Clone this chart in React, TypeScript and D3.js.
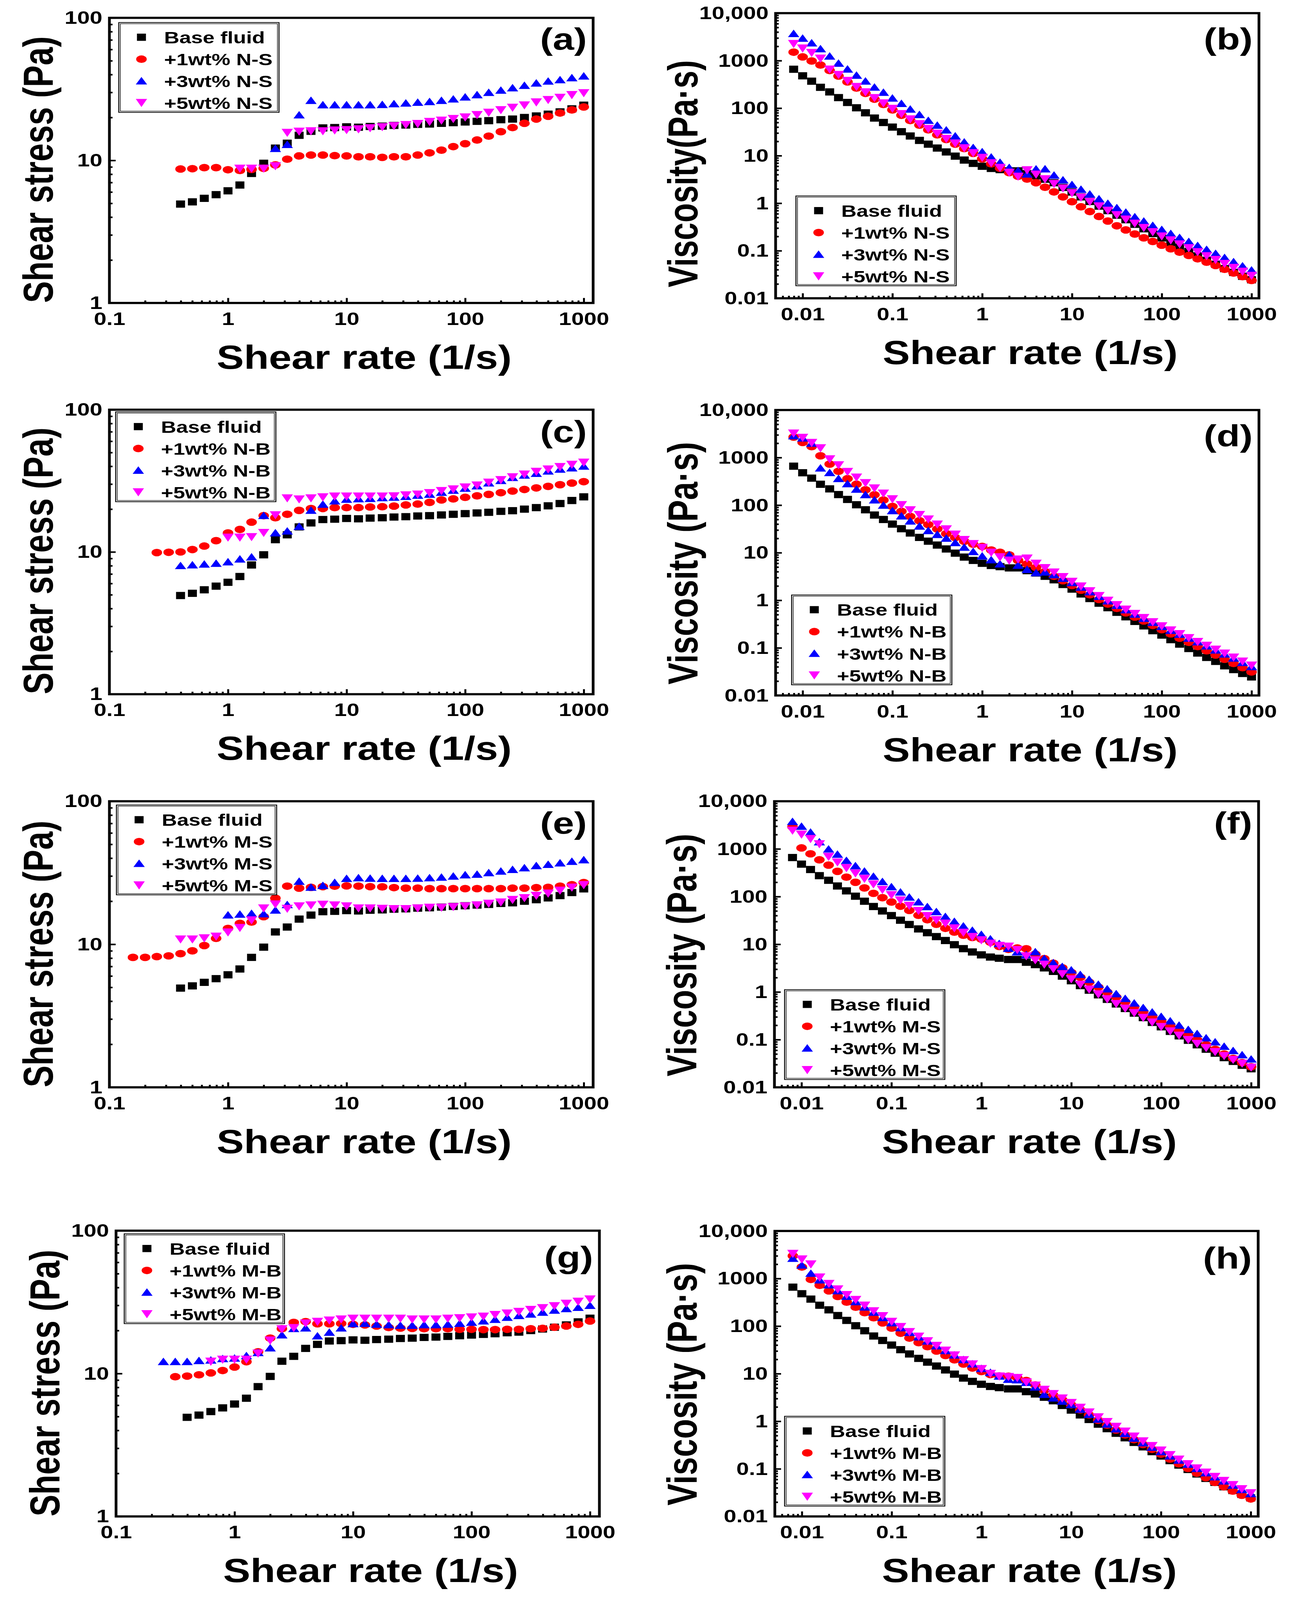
import React, { useEffect, useRef } from "react";
import * as d3 from "d3";

const FONT = "'Liberation Sans', Arial, Helvetica, sans-serif";
const W = 3304;
const H = 5112;

// shear-rate grids (1/s)
const stressRates = [0.158, 0.2, 0.251, 0.316, 0.398, 0.501, 0.631, 0.794, 1, 1.26, 1.58, 2, 2.51, 3.16, 3.98, 5.01, 6.31, 7.94, 10, 12.6, 15.8, 20, 25.1, 31.6, 39.8, 50.1, 63.1, 79.4, 100, 126, 158, 200, 251, 316, 398, 501, 631, 794, 1000];
const viscRates = [0.00794, 0.01, 0.0126, 0.0158, 0.02, 0.0251, 0.0316, 0.0398, 0.0501, 0.0631, 0.0794, 0.1, 0.126, 0.158, 0.2, 0.251, 0.316, 0.398, 0.501, 0.631, 0.794, 1, 1.26, 1.58, 2, 2.51, 3.16, 3.98, 5.01, 6.31, 7.94, 10, 12.6, 15.8, 20, 25.1, 31.6, 39.8, 50.1, 63.1, 79.4, 100, 126, 158, 200, 251, 316, 398, 501, 631, 794, 1000];

// tick labels
const stressXTicks = [0.1, 1, 10, 100, 1000];
const stressXLabels = ["0.1", "1", "10", "100", "1000"];
const stressYTicks = [1, 10, 100];
const stressYLabels = ["1", "10", "100"];
const viscXTicks = [0.01, 0.1, 1, 10, 100, 1000];
const viscXLabels = ["0.01", "0.1", "1", "10", "100", "1000"];
const viscYTicks = [0.01, 0.1, 1, 10, 100, 1000, 10000];
const viscYLabels = ["0.01", "0.1", "1", "10", "100", "1000", "10,000"];

// shear stress (Pa), aligned with stressRates
const baseStress = [null, null, null, null, 4.94, 5.12, 5.42, 5.75, 6.12, 6.72, 8.1, 9.55, 12.2, 13.2, 15.0, 16.0, 16.9, 17.0, 17.2, 17.1, 17.3, 17.4, 17.6, 17.7, 17.9, 18.0, 18.2, 18.4, 18.6, 18.8, 19.0, 19.3, 19.5, 20.0, 20.5, 21.1, 21.9, 23.0, 24.4];
const stressNS1 = [null, null, null, null, 8.7, 8.75, 8.9, 8.9, 8.6, 8.5, 8.65, 8.8, 9.3, 10.2, 10.75, 10.9, 10.9, 10.8, 10.75, 10.6, 10.6, 10.5, 10.6, 10.6, 10.9, 11.3, 11.8, 12.5, 13.1, 13.9, 14.8, 15.9, 17.0, 18.2, 19.5, 20.4, 21.5, 22.6, 23.7];
const stressNS3 = [null, null, null, null, null, null, null, null, null, null, null, null, 12.1, 12.9, 20.8, 26.3, 24.5, 24.5, 24.5, 24.5, 24.5, 24.6, 24.9, 25.2, 25.5, 25.8, 26.3, 26.9, 27.8, 28.8, 29.9, 31.0, 32.2, 33.5, 34.8, 35.9, 36.7, 37.9, 39.0];
const stressNS5 = [null, null, null, null, null, null, null, null, null, 8.75, 8.75, 8.75, 9.1, 15.6, 15.9, 16.0, 16.0, 16.2, 16.3, 16.5, 16.8, 17.1, 17.4, 17.7, 18.0, 18.6, 19.0, 19.5, 20.0, 20.8, 21.6, 22.5, 23.4, 24.3, 25.5, 26.5, 27.5, 28.7, 29.6];
const stressNB1 = [null, null, 9.9, 9.95, 10.0, 10.4, 11.0, 12.0, 13.6, 14.4, 16.2, 18.0, 17.4, 18.4, 19.6, 20.2, 20.2, 20.5, 20.5, 20.5, 20.7, 20.8, 21.0, 21.4, 21.7, 22.3, 23.2, 23.6, 24.2, 24.8, 25.4, 26.1, 26.8, 27.5, 28.2, 28.9, 29.7, 30.5, 31.2];
const stressNB3 = [null, null, null, null, 8.0, 8.1, 8.2, 8.3, 8.5, 8.9, 9.2, 18.0, 13.6, 14.0, 15.1, 19.6, 21.6, 22.8, 23.4, 23.6, 23.7, 24.0, 24.2, 24.5, 25.0, 25.4, 26.2, 27.1, 28.0, 29.1, 30.5, 31.7, 33.3, 34.6, 35.6, 37.0, 38.1, 38.9, 40.0];
const stressNB5 = [null, null, null, null, null, null, null, null, 12.6, 12.6, 12.7, 13.6, 18.1, 23.8, 23.4, 23.8, 24.2, 24.5, 24.5, 24.5, 24.5, 24.5, 24.6, 25.0, 25.3, 25.9, 26.8, 27.5, 28.4, 29.3, 30.7, 32.0, 33.5, 35.0, 36.6, 38.0, 39.5, 41.0, 42.4];
const stressMS1 = [8.1, 8.1, 8.2, 8.3, 8.6, 9.0, 9.8, 11.0, 12.9, 14.0, 14.3, 15.6, 21.0, 25.5, 24.7, 25.0, 25.3, 25.5, 25.6, 25.5, 25.3, 25.2, 24.9, 24.7, 24.7, 24.5, 24.5, 24.5, 24.5, 24.5, 24.5, 24.5, 24.7, 24.7, 24.9, 25.0, 25.5, 26.1, 27.0];
const stressMS3 = [null, null, null, null, null, null, null, null, 16.0, 16.2, 16.4, 16.3, 17.3, 18.9, 27.5, 25.0, 25.7, 27.0, 28.8, 29.1, 28.9, 28.8, 28.8, 28.8, 28.9, 29.1, 29.4, 29.9, 30.5, 30.8, 31.6, 32.4, 33.3, 34.2, 35.4, 36.1, 37.0, 37.9, 38.9];
const stressMS5 = [null, null, null, null, 10.8, 10.8, 11.0, 11.3, 12.1, 13.0, 14.7, 17.8, 19.0, 17.7, 18.4, 18.7, 18.9, 18.7, 18.4, 17.8, 17.8, 17.7, 17.6, 17.6, 17.8, 18.0, 18.0, 18.2, 18.4, 18.7, 19.2, 19.6, 20.4, 21.0, 21.8, 22.6, 23.7, 24.9, 25.9];
const stressMB1 = [null, null, null, 9.5, 9.6, 9.8, 10.1, 10.5, 11.1, 12.1, 14.2, 17.7, 20.6, 22.8, 23.1, 22.3, 22.3, 22.4, 22.1, 21.9, 21.5, 21.0, 20.8, 20.7, 20.6, 20.6, 20.6, 20.4, 20.4, 20.3, 20.3, 20.4, 20.4, 20.6, 20.7, 21.1, 21.5, 22.1, 23.3];
const stressMB3 = [null, null, 12.1, 12.1, 12.1, 12.3, 12.4, 12.7, 12.8, 13.3, 14.0, 15.1, 18.6, 20.6, 20.8, 18.3, 19.4, 20.8, 22.3, 22.4, 22.1, 21.9, 21.7, 21.7, 21.9, 21.9, 22.1, 22.4, 22.8, 23.3, 23.9, 24.7, 25.4, 26.0, 26.8, 27.7, 28.4, 29.0, 29.9];
const stressMB5 = [null, null, null, null, null, null, 12.1, 12.5, 12.5, 12.5, 13.8, 17.0, 20.4, 20.8, 22.4, 23.0, 23.5, 23.9, 24.2, 24.2, 24.2, 24.2, 24.2, 23.9, 23.9, 23.9, 24.2, 24.4, 24.7, 25.0, 25.7, 26.3, 27.0, 27.9, 28.7, 29.6, 30.8, 31.8, 33.0];

// viscosity (Pa·s), aligned with viscRates
const baseVisc = [660, 480, 370, 275, 220, 167, 132, 102, 80, 62, 50, 40, 32, 26, 21, 17.5, 14.5, 12, 9.8, 8.1, 6.9, 6.0, 5.4, 5.1, 4.8, 4.8, 4.2, 3.75, 3.2, 2.7, 2.15, 1.72, 1.36, 1.09, 0.87, 0.70, 0.56, 0.45, 0.36, 0.29, 0.23, 0.186, 0.149, 0.12, 0.097, 0.078, 0.063, 0.052, 0.042, 0.035, 0.029, 0.0245];
const viscNS1 = [1510, 1200, 985, 810, 620, 475, 357, 265, 205, 155, 120, 92, 71, 55, 44, 35, 27.5, 21.9, 17.5, 14.1, 11.2, 8.6, 6.75, 5.46, 4.41, 3.70, 3.23, 2.70, 2.17, 1.73, 1.36, 1.075, 0.842, 0.669, 0.526, 0.422, 0.335, 0.274, 0.225, 0.187, 0.157, 0.131, 0.110, 0.0934, 0.0797, 0.0677, 0.0576, 0.049, 0.0407, 0.0341, 0.0285, 0.0237];
const viscNS3 = [3700, 2950, 2350, 1770, 1240, 880, 660, 490, 370, 276, 214, 162, 125, 95, 73, 55, 43.5, 34.5, 25.9, 19.3, 14.7, 12.0, 9.3, 7.2, 5.6, 4.82, 4.08, 5.22, 5.25, 3.88, 3.08, 2.45, 1.95, 1.55, 1.23, 0.99, 0.797, 0.641, 0.515, 0.417, 0.339, 0.278, 0.229, 0.189, 0.155, 0.128, 0.106, 0.0874, 0.0716, 0.0582, 0.0477, 0.039];
const viscNS5 = [2240, 1800, 1450, 1100, 650, 500, 375, 280, 215, 163, 126, 97, 75, 58, 46, 36.5, 29, 22.5, 18, 14.3, 11.3, 9.0, 6.95, 5.52, 4.39, 3.62, 4.93, 3.99, 3.19, 2.54, 2.04, 1.63, 1.31, 1.06, 0.857, 0.693, 0.56, 0.452, 0.371, 0.301, 0.2455, 0.2, 0.165, 0.136, 0.113, 0.0932, 0.0768, 0.064, 0.0529, 0.0436, 0.0361, 0.0296];
const viscNB1 = [2700, 2080, 1700, 1090, 730, 515, 360, 275, 210, 165, 128, 94, 74, 58, 47, 39, 31.5, 25.1, 20.8, 17.4, 15.1, 13.6, 11.4, 10.2, 9.0, 6.9, 5.8, 4.9, 4.0, 3.2, 2.58, 2.05, 1.63, 1.31, 1.04, 0.836, 0.677, 0.545, 0.445, 0.368, 0.297, 0.242, 0.197, 0.160, 0.131, 0.107, 0.087, 0.0708, 0.0577, 0.0471, 0.0384, 0.0312];
const viscNB3 = [2860, 2560, 1990, 600, 480, 360, 280, 215, 165, 128, 99, 76, 59, 46, 36, 29, 24, 20.1, 16.2, 13.0, 10.5, 8.5, 7.07, 5.8, 9.0, 5.41, 4.43, 3.79, 3.91, 3.42, 2.87, 2.34, 1.87, 1.5, 1.2, 0.963, 0.775, 0.628, 0.507, 0.415, 0.341, 0.28, 0.231, 0.192, 0.159, 0.133, 0.109, 0.0894, 0.0738, 0.0604, 0.049, 0.04];
const viscNB5 = [3200, 2600, 2030, 1570, 920, 690, 500, 380, 290, 225, 175, 133, 100, 78, 62, 50, 39, 31, 24, 18.5, 15.2, 12.6, 10.0, 8.01, 6.82, 7.21, 7.53, 5.88, 4.75, 3.84, 3.08, 2.45, 1.95, 1.55, 1.23, 0.979, 0.791, 0.636, 0.517, 0.425, 0.346, 0.284, 0.233, 0.194, 0.160, 0.133, 0.111, 0.0919, 0.0758, 0.0626, 0.0516, 0.0424];
const viscMS1 = [2900, 1050, 790, 590, 458, 339, 256, 200, 152, 117, 95, 77, 63, 51.3, 40.5, 32.7, 26.3, 21.6, 18.0, 15.5, 13.9, 12.9, 11.1, 9.02, 7.82, 8.36, 8.06, 6.2, 4.99, 4.01, 3.21, 2.56, 2.03, 1.60, 1.26, 0.991, 0.781, 0.620, 0.489, 0.388, 0.308, 0.245, 0.195, 0.155, 0.123, 0.0983, 0.0781, 0.0625, 0.0499, 0.0404, 0.0329, 0.027];
const viscMS3 = [3740, 2960, 2230, 1400, 990, 770, 570, 440, 340, 265, 205, 160, 124, 97, 77, 61, 48, 38, 30, 24, 19.5, 16.0, 12.9, 10.3, 8.17, 6.89, 5.98, 6.91, 4.99, 4.07, 3.40, 2.88, 2.31, 1.82, 1.44, 1.15, 0.911, 0.726, 0.581, 0.466, 0.376, 0.305, 0.245, 0.199, 0.162, 0.133, 0.108, 0.0889, 0.072, 0.0586, 0.0477, 0.0389];
const viscMS5 = [2410, 1990, 1610, 1250, 680, 520, 395, 305, 235, 180, 138, 107, 83, 64, 50, 39, 32, 27.1, 21.6, 17.4, 14.2, 12.1, 10.3, 9.27, 8.92, 7.56, 5.60, 4.62, 3.73, 3.0, 2.35, 1.84, 1.41, 1.12, 0.887, 0.701, 0.557, 0.447, 0.359, 0.285, 0.229, 0.184, 0.149, 0.121, 0.0982, 0.0812, 0.0664, 0.0548, 0.0451, 0.0376, 0.0313, 0.0259];
const viscMB1 = [3000, 1750, 960, 720, 550, 420, 320, 250, 192, 150, 117, 91, 71, 56, 45, 37, 30.0, 24.1, 19.6, 16.0, 13.2, 11.1, 9.61, 8.96, 8.87, 8.2, 7.21, 5.80, 4.45, 3.53, 2.82, 2.21, 1.74, 1.36, 1.05, 0.828, 0.655, 0.517, 0.411, 0.326, 0.257, 0.204, 0.161, 0.128, 0.102, 0.0812, 0.0651, 0.052, 0.0421, 0.0341, 0.0278, 0.0233];
const viscMB3 = [2640, 1910, 1280, 930, 730, 550, 420, 325, 250, 195, 150, 117, 92, 73, 59, 48.2, 38.3, 30.4, 24.6, 19.7, 16.0, 12.8, 10.6, 8.83, 7.57, 7.40, 6.51, 5.22, 3.65, 3.07, 2.62, 2.23, 1.78, 1.39, 1.10, 0.864, 0.686, 0.55, 0.437, 0.350, 0.282, 0.228, 0.185, 0.151, 0.124, 0.101, 0.0822, 0.0673, 0.0553, 0.045, 0.0365, 0.0299];
const viscMB5 = [3300, 2520, 1980, 1050, 770, 590, 450, 354, 270, 205, 162, 123, 96, 75, 60, 48, 38.5, 30.5, 24.2, 19.2, 15.7, 12.5, 9.93, 8.71, 8.52, 8.12, 6.58, 5.63, 4.59, 3.72, 3.01, 2.42, 1.92, 1.53, 1.21, 0.963, 0.765, 0.608, 0.477, 0.379, 0.301, 0.242, 0.194, 0.156, 0.125, 0.102, 0.0832, 0.0678, 0.0557, 0.0455, 0.0373, 0.0308];

const seriesColors = ["#000000", "#ff0000", "#0000ff", "#ff00ff"];
const seriesShapes = ["square", "circle", "up", "down"];

type Panel = {
  id: string;
  kind: "stress" | "visc";
  additive: string;
  yTitle: string;
  series: (number | null)[][];
  left: number;
  right: number;
  top: number;
  bottom: number;
  legendX: number;
  legendY: number;
  labelY: number;
};

const panels: Panel[] = [
  { id: "a", kind: "stress", additive: "N-S", yTitle: "Shear stress (Pa)", series: [baseStress, stressNS1, stressNS3, stressNS5], left: 280, right: 1518, top: 57, bottom: 968, legendX: 304, legendY: 72, labelY: 159 },
  { id: "b", kind: "visc", additive: "N-S", yTitle: "Viscosity(Pa·s)", series: [baseVisc, viscNS1, viscNS3, viscNS5], left: 1985, right: 3222, top: 42, bottom: 953, legendX: 2037, legendY: 626, labelY: 159 },
  { id: "c", kind: "stress", additive: "N-B", yTitle: "Shear stress (Pa)", series: [baseStress, stressNB1, stressNB3, stressNB5], left: 280, right: 1518, top: 1309, bottom: 2218, legendX: 296, legendY: 1316, labelY: 1413 },
  { id: "d", kind: "visc", additive: "N-B", yTitle: "Viscosity (Pa·s)", series: [baseVisc, viscNB1, viscNB3, viscNB5], left: 1985, right: 3222, top: 1310, bottom: 2222, legendX: 2026, legendY: 1901, labelY: 1426 },
  { id: "e", kind: "stress", additive: "M-S", yTitle: "Shear stress (Pa)", series: [baseStress, stressMS1, stressMS3, stressMS5], left: 280, right: 1518, top: 2560, bottom: 3474, legendX: 298, legendY: 2572, labelY: 2663 },
  { id: "f", kind: "visc", additive: "M-S", yTitle: "Viscosity (Pa·s)", series: [baseVisc, viscMS1, viscMS3, viscMS5], left: 1982, right: 3221, top: 2560, bottom: 3474, legendX: 2008, legendY: 3162, labelY: 2663 },
  { id: "g", kind: "stress", additive: "M-B", yTitle: "Shear stress (Pa)", series: [baseStress, stressMB1, stressMB3, stressMB5], left: 297, right: 1534, top: 3932, bottom: 4845, legendX: 318, legendY: 3942, labelY: 4051 },
  { id: "h", kind: "visc", additive: "M-B", yTitle: "Viscosity (Pa·s)", series: [baseVisc, viscMB1, viscMB3, viscMB5], left: 1983, right: 3220, top: 3933, bottom: 4845, legendX: 2008, legendY: 4525, labelY: 4054 },
];

function marker(g: any, shape: string, cx: number, cy: number, color: string) {
  if (shape === "square") {
    g.append("rect").attr("x", cx - 11.5).attr("y", cy - 11.5).attr("width", 23).attr("height", 23).attr("fill", color);
  } else if (shape === "circle") {
    g.append("ellipse").attr("cx", cx).attr("cy", cy).attr("rx", 13.5).attr("ry", 12).attr("fill", color);
  } else if (shape === "up") {
    g.append("path").attr("d", `M${cx},${cy - 13}L${cx + 14.5},${cy + 11}L${cx - 14.5},${cy + 11}Z`).attr("fill", color);
  } else {
    g.append("path").attr("d", `M${cx - 14.5},${cy - 13}L${cx + 14.5},${cy - 13}L${cx},${cy + 13}Z`).attr("fill", color);
  }
}

const isDecade = (v: number) => Math.abs(Math.log10(v) - Math.round(Math.log10(v))) < 1e-6;

function drawPanel(svg: any, p: Panel) {
  const stress = p.kind === "stress";
  const rates = stress ? stressRates : viscRates;
  const x = d3.scaleLog().domain(stress ? [0.1, 1200] : [0.005, 1210]).range([p.left, p.right]);
  const y = d3.scaleLog().domain(stress ? [1, 100] : [0.01, 10000]).range([p.bottom, p.top]);
  const xTicks = stress ? stressXTicks : viscXTicks;
  const xLabels = stress ? stressXLabels : viscXLabels;
  const yTicks = stress ? stressYTicks : viscYTicks;
  const yLabels = stress ? stressYLabels : viscYLabels;
  const g = svg.append("g");

  const styleAxis = (a: any) => {
    a.select(".domain").remove();
    a.selectAll("line").attr("stroke", "#000").attr("stroke-width", 5);
    a.attr("font-size", 58).attr("font-family", FONT).attr("font-weight", "bold");
    a.selectAll("text").attr("fill", "#000");
  };

  // minor ticks
  const xMinor = x.ticks().filter((v: number) => !isDecade(v));
  const yMinor = y.ticks().filter((v: number) => !isDecade(v));
  g.append("g").attr("transform", `translate(0,${p.bottom})`)
    .call(d3.axisBottom(x).tickValues(xMinor).tickSize(-8).tickFormat(() => ""))
    .call(styleAxis);
  g.append("g").attr("transform", `translate(${p.left},0)`)
    .call(d3.axisLeft(y).tickValues(yMinor).tickSize(-8).tickFormat(() => ""))
    .call(styleAxis);

  // major ticks + labels
  g.append("g").attr("transform", `translate(0,${p.bottom})`)
    .call(d3.axisBottom(x).tickValues(xTicks).tickSizeInner(-16).tickSizeOuter(0).tickPadding(29)
      .tickFormat((_d: any, i: number) => xLabels[i]))
    .call(styleAxis);
  g.append("g").attr("transform", `translate(${p.left},0)`)
    .call(d3.axisLeft(y).tickValues(yTicks).tickSizeInner(-16).tickSizeOuter(0).tickPadding(18)
      .tickFormat((_d: any, i: number) => yLabels[i]))
    .call(styleAxis);

  // data
  p.series.forEach((vals, si) => {
    const sg = g.append("g");
    vals.forEach((v, j) => {
      if (v == null) return;
      marker(sg, seriesShapes[si], x(rates[j]), y(v), seriesColors[si]);
    });
  });

  // frame
  g.append("rect")
    .attr("x", p.left).attr("y", p.top)
    .attr("width", p.right - p.left).attr("height", p.bottom - p.top)
    .attr("fill", "none").attr("stroke", "#000").attr("stroke-width", 7);

  // legend
  const lw = 410, lh = 287;
  const lg = g.append("g");
  lg.append("rect").attr("x", p.legendX).attr("y", p.legendY).attr("width", lw).attr("height", lh)
    .attr("fill", "#fff").attr("stroke", "#000").attr("stroke-width", 2.5);
  lg.append("rect").attr("x", p.legendX + 4).attr("y", p.legendY + 4).attr("width", lw - 8).attr("height", lh - 8)
    .attr("fill", "none").attr("stroke", "#000").attr("stroke-width", 1.5);
  const names = ["Base fluid", `+1wt% ${p.additive}`, `+3wt% ${p.additive}`, `+5wt% ${p.additive}`];
  names.forEach((name, i) => {
    const cy = p.legendY + 47 + 70 * i;
    marker(lg, seriesShapes[i], p.legendX + 58, cy, seriesColors[i]);
    lg.append("text").attr("x", p.legendX + 116).attr("y", cy).attr("dy", "0.36em")
      .attr("font-family", FONT).attr("font-weight", "bold").attr("font-size", 54)
      .text(name);
  });

  // panel label
  g.append("text").attr("x", p.right - 16).attr("y", p.labelY)
    .attr("text-anchor", "end").attr("font-family", FONT).attr("font-weight", "bold").attr("font-size", 98)
    .text(`(${p.id})`);

  // axis titles
  g.append("text").attr("x", (p.left + p.right) / 2 + 33).attr("y", p.bottom + 210)
    .attr("text-anchor", "middle").attr("font-family", FONT).attr("font-weight", "bold").attr("font-size", 106)
    .attr("textLength", 755).attr("lengthAdjust", "spacingAndGlyphs")
    .text("Shear rate (1/s)");
  const ty = stress ? p.bottom : p.bottom - 35;
  const tx = stress ? p.left - 145 : p.left - 200;
  const tLen = stress ? 852 : p.id === "b" ? 726 : 775;
  g.append("text").attr("transform", `translate(${tx},${ty}) rotate(-90)`)
    .attr("text-anchor", "start").attr("font-family", FONT).attr("font-weight", "bold").attr("font-size", 108)
    .attr("textLength", tLen).attr("lengthAdjust", "spacingAndGlyphs")
    .text(p.yTitle);
}

export default function App() {
  const ref = useRef<SVGSVGElement>(null);
  // fit the whole figure into the visible viewport
  const vw = typeof window !== "undefined" && window.innerWidth ? window.innerWidth : W;
  const vh = typeof window !== "undefined" && window.innerHeight ? window.innerHeight : H;
  useEffect(() => {
    const svg = d3.select(ref.current);
    svg.selectAll("*").remove();
    svg.append("rect").attr("width", W).attr("height", H).attr("fill", "#fff");
    panels.forEach((p) => drawPanel(svg, p));
  }, []);
  return (
    <>
      <style>{"html,body{margin:0;padding:0;overflow:hidden;background:#fff}"}</style>
      <svg ref={ref} width={vw} height={vh} viewBox={`0 0 ${W} ${H}`} preserveAspectRatio="none" style={{ display: "block" }} />
    </>
  );
}
